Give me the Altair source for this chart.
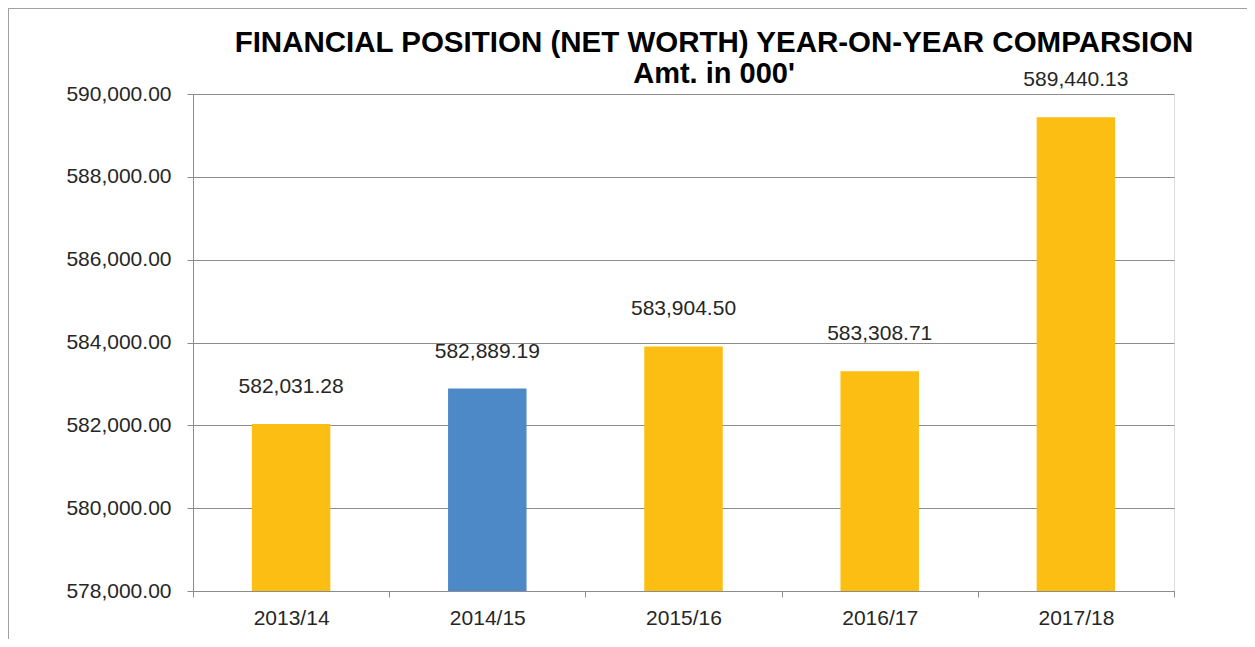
import altair as alt
import pandas as pd

years = ["2013/14", "2014/15", "2015/16", "2016/17", "2017/18"]
net_worth = [582031.28, 582889.19, 583904.50, 583308.71, 589440.13]
highlight = ["other", "focus", "other", "other", "other"]
y_ticks = [578000, 580000, 582000, 584000, 586000, 588000, 590000]
title_lines = ["FINANCIAL POSITION (NET WORTH) YEAR-ON-YEAR COMPARSION", "Amt. in 000'"]

df = pd.DataFrame({"year": years, "value": net_worth, "group": highlight})
one = pd.DataFrame({"k": [0]})

FONT = "Liberation Sans"
W, H = 981, 497

x_enc = alt.X("year:N", sort=years, title=None,
              scale=alt.Scale(paddingInner=0, paddingOuter=0),
              axis=alt.Axis(tickBand="extent", labelAngle=0, labelFont=FONT, labelFontSize=21,
                            labelColor="#262626", labelPadding=10, tickSize=6,
                            tickColor="#8c8c8c", domainColor="#8c8c8c", grid=False))
y_enc = alt.Y("value:Q", title=None,
              scale=alt.Scale(domain=[578000, 590000], zero=False, nice=False),
              axis=alt.Axis(values=y_ticks, format=",.2f", labelFont=FONT, labelFontSize=21,
                            labelColor="#262626", labelPadding=16, tickSize=6,
                            tickColor="#8c8c8c", domainColor="#8c8c8c",
                            gridColor="#8c8c8c", gridWidth=1, grid=True))

bars = alt.Chart(df).mark_bar(width=alt.RelativeBandSize(0.4), clip=True).encode(
    x=x_enc, y=y_enc,
    color=alt.Color("group:N", legend=None,
                    scale=alt.Scale(domain=["other", "focus"], range=["#FDBE13", "#4E89C7"])),
)

labels = alt.Chart(df).mark_text(font=FONT, fontSize=21, color="#262626",
                                 baseline="alphabetic", dy=-31).encode(
    x=alt.X("year:N", sort=years), y="value:Q", text=alt.Text("value:Q", format=",.2f"))

border_left = alt.Chart(one).mark_rule(color="#a0a0a0", strokeWidth=1).encode(
    x=alt.value(-184.5), y=alt.value(-86), y2=alt.value(560))
border_top = alt.Chart(one).mark_rule(color="#a0a0a0", strokeWidth=1).encode(
    x=alt.value(-185), x2=alt.value(1100), y=alt.value(-85.5))

title1 = alt.Chart(one).mark_text(font=FONT, fontSize=29.5, fontWeight="bold", color="#000000",
                                  align="center", baseline="alphabetic").encode(
    text=alt.datum(title_lines[0]), x=alt.value(521), y=alt.value(-42))
title2 = alt.Chart(one).mark_text(font=FONT, fontSize=29, fontWeight="bold", color="#000000",
                                  align="center", baseline="alphabetic").encode(
    text=alt.datum(title_lines[1]), x=alt.value(521), y=alt.value(-11))

chart = alt.layer(bars, labels, border_left, border_top, title1, title2).properties(
    width=W, height=H,
    autosize=alt.AutoSizeParams(type="none"),
    padding={"left": 185, "top": 86, "right": 73, "bottom": 48},
).configure_view(stroke=None).configure(background="white")

chart.save("out.html", embed_options={"renderer": "svg", "actions": False})
